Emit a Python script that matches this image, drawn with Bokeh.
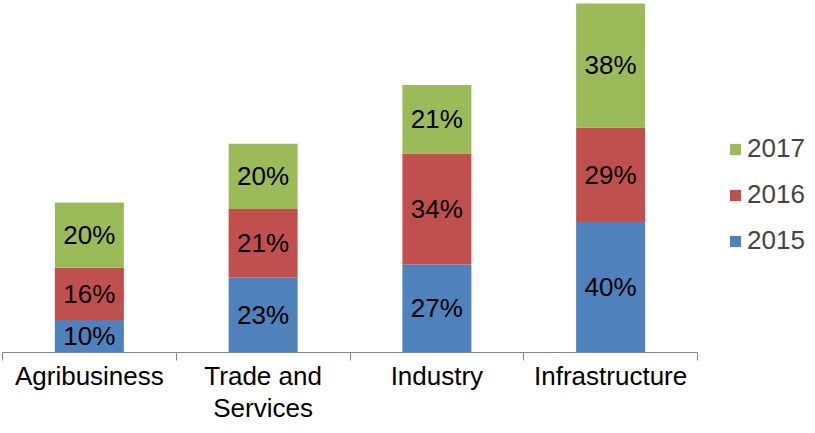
from bokeh.plotting import figure
from bokeh.models import ColumnDataSource, Range1d, FixedTicker, Legend, LegendItem
from bokeh.core.properties import value
from bokeh.embed import file_html
from bokeh.resources import INLINE

categories = ["Agribusiness", "Trade and\nServices", "Industry", "Infrastructure"]
years = ["2015", "2016", "2017"]
v2015 = [10, 23, 27, 40]
v2016 = [16, 21, 34, 29]
v2017 = [20, 20, 21, 38]
colors = ["#4F81BD", "#C0504D", "#9BBB59"]

FONT = "Liberation Sans"
xs = [i + 0.5 for i in range(len(categories))]

src = ColumnDataSource(dict(x=xs, y2015=v2015, y2016=v2016, y2017=v2017))

p = figure(width=807, height=425, output_backend="svg", toolbar_location=None,
           x_range=Range1d(-0.0115, 4.633), y_range=Range1d(0, 107.9),
           min_border_left=0, min_border_right=0, min_border_top=0, min_border_bottom=0)

rs = p.vbar_stack(["y2015", "y2016", "y2017"], x="x", width=0.397, source=src,
                  color=colors, line_color=None)

# data labels
lx, ly, lt = [], [], []
for i, x in enumerate(xs):
    base = 0
    for vals in (v2015, v2016, v2017):
        lx.append(x)
        ly.append(base + vals[i] / 2)
        lt.append(f"{vals[i]}%")
        base += vals[i]
p.text(x=lx, y=ly, text=lt, text_align="center", text_baseline="middle",
       text_font=value(FONT), text_font_size="26px", text_color="black")

p.yaxis.visible = False
p.grid.visible = False
p.outline_line_color = None

ax = p.xaxis[0]
ax.ticker = FixedTicker(ticks=xs, minor_ticks=[0, 1, 2, 3, 4])
ax.major_label_overrides = {x: c for x, c in zip(xs, categories)}
ax.bounds = (0, 4)
ax.axis_line_color = "#868686"
ax.axis_line_width = 1
ax.major_tick_line_color = None
ax.major_tick_out = 0
ax.major_tick_in = 0
ax.minor_tick_line_color = "#868686"
ax.minor_tick_out = 8
ax.minor_tick_in = 0
ax.major_label_standoff = 0
ax.major_label_text_font = FONT
ax.major_label_text_font_size = "26px"
ax.major_label_text_line_height = 1.07
ax.major_label_text_color = "black"

legend = Legend(items=[LegendItem(label=years[2], renderers=[rs[2]]),
                       LegendItem(label=years[1], renderers=[rs[1]]),
                       LegendItem(label=years[0], renderers=[rs[0]])],
                location=(728, 96), glyph_width=14, glyph_height=14,
                label_standoff=5, spacing=15, padding=0, margin=0,
                label_text_font=FONT, label_text_font_size="26px",
                border_line_color=None, background_fill_alpha=0)
p.add_layout(legend)

open("out.html", "w").write(file_html(p, INLINE))
